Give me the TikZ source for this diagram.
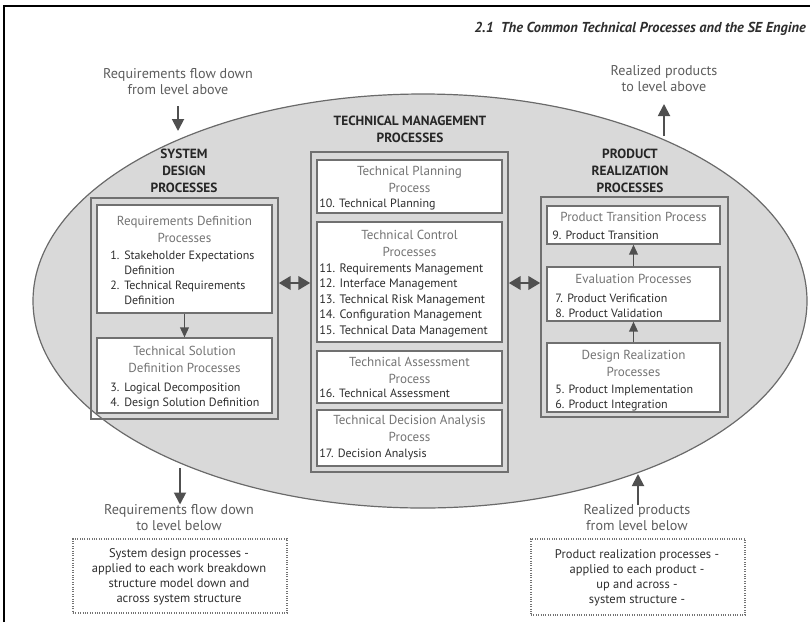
\documentclass[tikz,border=0pt]{standalone}
\usepackage{fontspec}
\setmainfont{PT Sans}
\usetikzlibrary{arrows.meta,fit}
\definecolor{shade}{HTML}{D9D9D9}
\definecolor{rim}{HTML}{6A6A6A}
\definecolor{boxline}{HTML}{707070}
\definecolor{headtxt}{HTML}{747474}
\definecolor{itemtxt}{HTML}{2E2E2E}
\definecolor{arrowc}{HTML}{505050}
\definecolor{labeltxt}{HTML}{5C5C5C}
\begin{document}
\begin{tikzpicture}[x=0.75pt,y=-0.75pt,
  ibox/.style={draw=boxline,fill=white,line width=0.9pt,inner sep=0pt},
  obox/.style={draw=boxline,line width=1.1pt,inner sep=0pt},
  ttl/.style={anchor=north,align=center,text=headtxt,inner sep=0pt,font=\fontsize{9.8}{12.4}\selectfont},
  itm/.style={anchor=north west,align=left,text=itemtxt,inner sep=0pt,font=\fontsize{9}{11.2}\selectfont},
  grp/.style={anchor=north,align=center,text=black!85,inner sep=0pt,font=\bfseries\fontsize{10}{12.8}\selectfont},
  flow/.style={anchor=north,align=center,text=labeltxt,inner sep=0pt,font=\fontsize{10.6}{12}\selectfont},
  note/.style={draw=black!55,densely dotted,line width=0.8pt,inner sep=0pt},
  notetxt/.style={anchor=north,align=center,text=itemtxt,inner sep=0pt,font=\fontsize{9.4}{11.1}\selectfont},
  arr/.style={draw=arrowc,line width=1.2pt,-{Triangle[length=7.5pt,width=6.5pt]}},
  bigarr/.style={draw=arrowc,line width=1.4pt,-{Triangle[length=9pt,width=9pt]}},
  darr/.style={draw=arrowc,line width=2.2pt,{Triangle[length=9pt,width=10pt]}-{Triangle[length=9pt,width=10pt]}},
]
\useasboundingbox (0,0) rectangle (810,622);

% page frame and running head
\draw[line width=1.4pt] (4,622) -- (4,6) -- (810,6);
\node[anchor=base east,inner sep=0pt,text=itemtxt,font=\bfseries\itshape\fontsize{10.8}{12}\selectfont] (head) at (806,32)
  {2.1\enspace The Common Technical Processes and the SE Engine};

% the engine
\path[draw=rim,fill=shade,line width=0.9pt] (423,94)
  arc[start angle=270,end angle=90,x radius=390,y radius=207]
  arc[start angle=90,end angle=-90,x radius=384,y radius=207] -- cycle;

% group frames
\node[obox,fit={(91,198)(278,419)}] (sd) {};
\node[obox,fit={(311,152)(508,472)}] (tm) {};
\node[obox,fit={(541,197)(728,417)}] (pr) {};

\node[grp] (sdT) at (184,148.3) {SYSTEM\\DESIGN\\PROCESSES};
\node[grp] (tmT) at (410,115.3) {TECHNICAL MANAGEMENT\\PROCESSES};
\node[grp] (prT) at (630,148.3) {PRODUCT\\REALIZATION\\PROCESSES};

% system design processes
\node[ibox,fit={(97,205)(272,313)}] (rd) {};
\node[ttl] (rdT) at (184.5,216) {Requirements Definition\\Processes};
\node[itm] (rdL) at (110,250.5) {\makebox[10.5pt][l]{1.}Stakeholder Expectations\\\hspace*{10.5pt}Definition\\\makebox[10.5pt][l]{2.}Technical Requirements\\\hspace*{10.5pt}Definition};

\node[ibox,fit={(97,338)(272,413)}] (ts) {};
\node[ttl] (tsT) at (184.5,346) {Technical Solution\\Definition Processes};
\node[itm] (tsL) at (110,382.5) {\makebox[10.5pt][l]{3.}Logical Decomposition\\\makebox[10.5pt][l]{4.}Design Solution Definition};

% technical management processes
\node[ibox,fit={(317,160)(502,213)}] (tp) {};
\node[ttl] (tpT) at (409.5,166) {Technical Planning\\Process};
\node[itm] (tpL) at (319,198.5) {10. Technical Planning};

\node[ibox,fit={(317,222)(502,342)}] (tc) {};
\node[ttl] (tcT) at (409.5,230) {Technical Control\\Processes};
\node[itm,font=\fontsize{9.2}{11.6}\selectfont] (tcL) at (319,263.5) {11. Requirements Management\\12. Interface Management\\13. Technical Risk Management\\14. Configuration Management\\15. Technical Data Management};

\node[ibox,fit={(317,351)(502,403)}] (ta) {};
\node[ttl] (taT) at (409.5,357) {Technical Assessment\\Process};
\node[itm] (taL) at (319,388.5) {16. Technical Assessment};

\node[ibox,fit={(317,410)(502,466)}] (td) {};
\node[ttl] (tdT) at (409.5,415) {Technical Decision Analysis\\Process};
\node[itm] (tdL) at (319,448.5) {17. Decision Analysis};

% product realization processes
\node[ibox,fit={(547,206)(720,244)}] (pt) {};
\node[ttl] (ptT) at (633.5,212) {Product Transition Process};
\node[itm] (ptL) at (552,230.5) {9. Product Transition};

\node[ibox,fit={(547,267)(720,321)}] (ev) {};
\node[ttl] (evT) at (633.5,274) {Evaluation Processes};
\node[itm] (evL) at (555,293.5) {7. Product Verification\\8. Product Validation};

\node[ibox,fit={(547,343)(720,412)}] (dr) {};
\node[ttl] (drT) at (633.5,350) {Design Realization\\Processes};
\node[itm] (drL) at (555,384.5) {5. Product Implementation\\6. Product Integration};

% flow inside the groups
\draw[arr] (rd.south) -- (ts.north);
\draw[arr] (dr.north) -- (ev.south);
\draw[arr] (ev.north) -- (pt.south);

% exchange between the groups
\coordinate (link) at (0,283);
\draw[darr] (sd.east |- link) -- (tm.west |- link);
\draw[darr] (tm.east |- link) -- (pr.west |- link);

% flows to and from neighbouring levels
\node[flow] (fromAbove) at (178,68.5) {Requirements flow down\\from level above};
\coordinate (inTop) at (178,106);
\coordinate (inEnd) at (178,131);
\draw[bigarr] (inTop) -- (inEnd);

\node[flow] (toAbove) at (664,65.5) {Realized products\\to level above};
\coordinate (outStart) at (664,136);
\coordinate (outTip) at (664,104);
\draw[bigarr] (outStart) -- (outTip);

\coordinate (downStart) at (180,468);
\node[flow] (toBelow) at (179,504.5) {Requirements flow down\\to level below};
\draw[bigarr] (downStart) -- (toBelow.north -| downStart);

\coordinate (upTip) at (638,474);
\node[flow] (fromBelow) at (637,504.5) {Realized products\\from level below};
\draw[bigarr] (fromBelow.north -| upTip) -- (upTip);

% notes
\node[note,fit={(73,539)(287,613)}] (sdNote) {};
\node[notetxt] (sdNoteT) at (179,548.5) {System design processes -\\applied to each work breakdown\\structure model down and\\across system structure};
\node[note,fit={(531,539)(745,615)}] (prNote) {};
\node[notetxt] (prNoteT) at (637,549.5) {Product realization processes -\\applied to each product -\\up and across -\\system structure -};
\end{tikzpicture}
\end{document}
